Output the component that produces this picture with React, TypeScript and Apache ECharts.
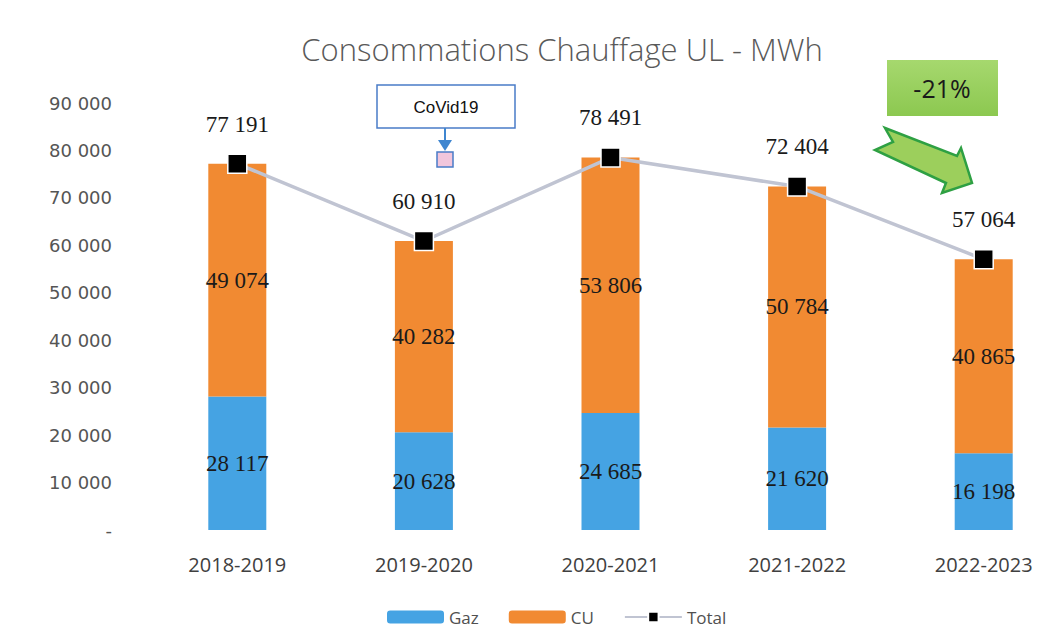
import React, { useEffect, useRef } from "react";
import * as echarts from "echarts";

const categories = ["2018-2019", "2019-2020", "2020-2021", "2021-2022", "2022-2023"];
const gazValues = [28117, 20628, 24685, 21620, 16198];
const cuValues = [49074, 40282, 53806, 50784, 40865];
const totalValues = [77191, 60910, 78491, 72404, 57064];
const titleText = "Consommations Chauffage UL - MWh";
const seriesNames = ["Gaz", "CU", "Total"];

const fmt = (n: number) => String(Math.round(n)).replace(/\B(?=(\d{3})+(?!\d))/g, " ");

export default function App() {
  const ref = useRef<HTMLDivElement>(null);
  useEffect(() => {
    document.body.style.margin = "0";
    document.body.style.overflow = "hidden";
    if (!ref.current) return;
    const chart = echarts.init(ref.current, undefined, { renderer: "svg" });
    const labelStyle = {
      show: true,
      position: "inside",
      color: "#1a1a1a",
      fontFamily: "Liberation Serif",
      fontSize: 23,
      formatter: (p: any) => fmt(p.value),
    };
    chart.setOption({
      animation: false,
      backgroundColor: "#ffffff",
      title: {
        text: titleText,
        left: 557,
        top: 28,
        textAlign: "center",
        textStyle: { fontFamily: "Open Sans", fontWeight: 300, fontSize: 31, color: "#595959" },
      },
      legend: {
        top: 607,
        left: 387,
        padding: 0,
        itemWidth: 57,
        itemHeight: 13,
        itemGap: 30,
        textStyle: { fontFamily: "Open Sans", fontSize: 17, lineHeight: 20, color: "#505050" },
        data: seriesNames,
      },
      grid: { left: 144, top: 103, width: 933, height: 427 },
      xAxis: {
        type: "category",
        data: categories,
        axisLine: { show: false },
        axisTick: { show: false },
        axisLabel: { margin: 24, fontFamily: "Open Sans", fontSize: 20, color: "#404040" },
      },
      yAxis: {
        type: "value",
        min: 0,
        max: 90000,
        interval: 10000,
        splitLine: { show: false },
        axisLine: { show: false },
        axisTick: { show: false },
        axisLabel: {
          margin: 32,
          fontFamily: "DejaVu Sans",
          fontSize: 18,
          color: "#555555",
          formatter: (v: number) => (v === 0 ? "-" : fmt(v)),
        },
      },
      series: [
        {
          name: seriesNames[0],
          type: "bar",
          stack: "s",
          data: gazValues,
          barWidth: 58,
          itemStyle: { color: "#45a3e3" },
          label: labelStyle,
        },
        {
          name: seriesNames[1],
          type: "bar",
          stack: "s",
          data: cuValues,
          barWidth: 58,
          itemStyle: { color: "#f18a32" },
          label: labelStyle,
        },
        {
          name: seriesNames[2],
          type: "line",
          data: totalValues,
          symbol: "rect",
          symbolSize: 19,
          lineStyle: { color: "#c0c4d2", width: 3.5 },
          itemStyle: { color: "#000000", borderColor: "#ffffff", borderWidth: 1.5 },
          label: {
            show: true,
            position: "top",
            distance: 18,
            color: "#1a1a1a",
            fontFamily: "Liberation Serif",
            fontSize: 23,
            formatter: (p: any) => fmt(p.value),
          },
          z: 5,
        },
      ],
      graphic: [
        {
          type: "rect",
          shape: { x: 377, y: 85, width: 138, height: 43 },
          style: { fill: "#ffffff", stroke: "#4a7cc8", lineWidth: 1.5 },
        },
        {
          type: "text",
          x: 446,
          y: 107,
          style: {
            text: "CoVid19",
            fontFamily: "Liberation Sans",
            fontSize: 17,
            fill: "#111111",
            align: "center",
            verticalAlign: "middle",
          },
        },
        {
          type: "line",
          shape: { x1: 445, y1: 128, x2: 445, y2: 142 },
          style: { stroke: "#3f86d0", lineWidth: 2 },
        },
        {
          type: "polygon",
          shape: { points: [[438, 140], [452, 140], [445, 151]] },
          style: { fill: "#3f86d0" },
        },
        {
          type: "rect",
          shape: { x: 437, y: 152, width: 16, height: 15 },
          style: { fill: "#f2c6dc", stroke: "#4a7cc8", lineWidth: 1.5 },
        },
        {
          type: "rect",
          shape: { x: 887, y: 60, width: 111, height: 56 },
          style: {
            fill: new echarts.graphic.LinearGradient(0, 0, 0, 1, [
              { offset: 0, color: "#a6d86e" },
              { offset: 1, color: "#8cc850" },
            ]),
          },
        },
        {
          type: "text",
          x: 942,
          y: 88,
          style: {
            text: "-21%",
            fontFamily: "Open Sans",
            fontSize: 25,
            fill: "#1a1a1a",
            align: "center",
            verticalAlign: "middle",
          },
        },
        {
          type: "polygon",
          shape: {
            points: [[885, 128], [957, 156], [961, 148], [972, 183], [942, 193], [946, 183], [875, 150], [893, 142]],
          },
          style: { fill: "#9ccf5c", stroke: "#2ea043", lineWidth: 2.5, lineJoin: "miter" },
        },
      ],
    });
    return () => chart.dispose();
  }, []);
  return (
    <div style={{ width: 1042, height: 630, overflow: "hidden" }}>
      <div ref={ref} style={{ width: 1100, height: 630 }} />
    </div>
  );
}
